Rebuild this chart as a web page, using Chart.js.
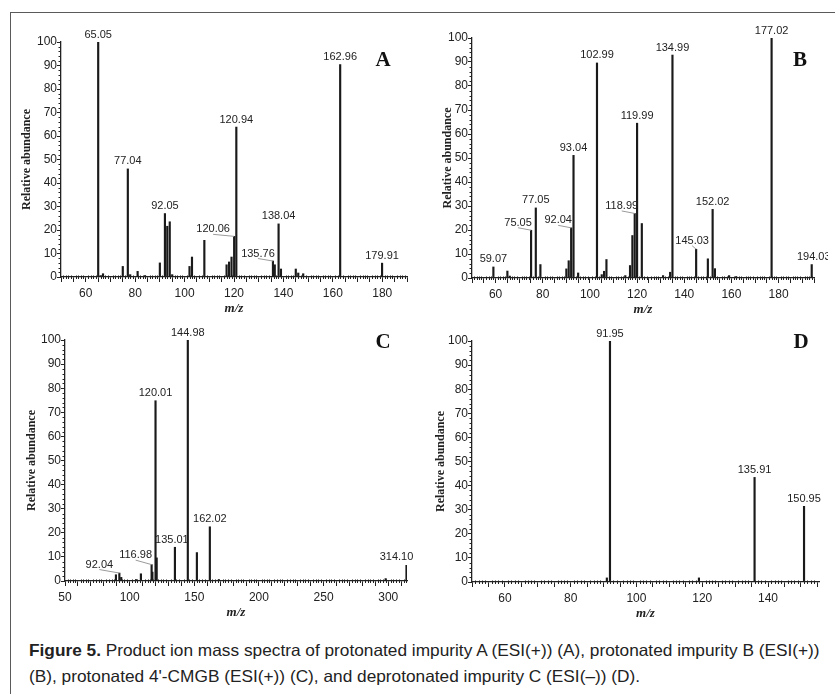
<!DOCTYPE html>
<html>
<head>
<meta charset="utf-8">
<script src="https://cdn.jsdelivr.net/npm/chart.js@4.4.1/dist/chart.umd.min.js"></script>
<style>
  body { margin: 0; background: #fff; }
  #page { position: relative; width: 835px; height: 694px; overflow: hidden; background: #fff; }
  #frame { position: absolute; left: 10px; top: 12px; width: 900px; height: 900px;
           border-left: 1.5px solid #5a5a5a; border-top: 1.5px solid #5a5a5a; }
  canvas { position: absolute; }
  .letra { position: absolute; width: 30px; text-align: center; font: bold 21px 'Liberation Serif', 'Times New Roman', serif;
           line-height: 21px; color: #111; }
  .legenda { position: absolute; left: 29px; white-space: nowrap; transform-origin: left center;
             font-family: 'Liberation Sans', Arial, sans-serif;
             font-size: 16.5px; line-height: 26px; color: #222; }
  .legenda b { font-weight: bold; }
</style>
</head>
<body>
<div id="page">
  <div id="frame"></div>
  <canvas id="chartA" width="401" height="301" style="left:16px; top:18px"></canvas>
  <canvas id="chartB" width="401" height="306" style="left:427px; top:14px"></canvas>
  <canvas id="chartC" width="399" height="307" style="left:20px; top:316px"></canvas>
  <canvas id="chartD" width="402" height="307" style="left:427px; top:317px"></canvas>
  <div class="letra" style="left:368px; top:49px">A</div>
  <div class="letra" style="left:785px; top:49px">B</div>
  <div class="letra" style="left:368px; top:331px">C</div>
  <div class="letra" style="left:786px; top:331px">D</div>
  <div class="legenda" id="linha1" style="top:637px"><b>Figure 5.</b> Product ion mass spectra of protonated impurity A (ESI(+)) (A), protonated impurity B (ESI(+))</div>
  <div class="legenda" id="linha2" style="top:663px">(B), protonated 4'-CMGB (ESI(+)) (C), and deprotonated impurity C (ESI(–)) (D).</div>
</div>
<script>
// Espectro A
const mzA = [65.05, 66, 67, 75, 77.04, 78, 81, 84, 90, 92.05, 93, 94, 95, 102, 103, 108, 117, 118, 119, 120.06, 120.94, 135.76, 136.5, 138.04, 139, 145, 146, 148, 162.96, 179.91];
const abA = [100, 0.6, 1.4, 4.5, 46, 1, 2.4, 0.6, 6, 27, 21.6, 23.5, 1, 4.5, 8.5, 15.6, 5.2, 6.4, 8.5, 17.3, 63.8, 6.8, 5.2, 22.6, 3.4, 3.4, 1.7, 1.4, 90.4, 5.9];
const rotulosA = ['65.05', '77.04', '92.05', '120.06', '120.94', '135.76', '138.04', '162.96', '179.91'];

// Espectro B
const mzB = [59.07, 65, 66, 75.05, 77.05, 79, 90, 91, 92.04, 93.04, 95, 102.99, 105, 106, 107, 115, 117, 118, 118.99, 119.99, 122, 131, 134, 134.99, 145.03, 150, 152.02, 153, 159, 162, 177.02, 194.03];
const abB = [4.6, 2.9, 0.8, 19.9, 29.2, 5.6, 3.8, 7.2, 20.9, 51.1, 2.1, 89.6, 1.4, 2.8, 7.7, 1, 5.2, 17.7, 26.9, 64.5, 22.7, 1, 2.4, 92.9, 12, 8, 28.6, 3.9, 1, 0.6, 100, 5.6];
const rotulosB = ['59.07', '75.05', '77.05', '92.04', '93.04', '102.99', '118.99', '119.99', '134.99', '145.03', '152.02', '177.02', '194.03'];

// Espectro C
const mzC = [89.4, 92.04, 93.5, 105, 108.7, 116.98, 117.6, 120.01, 120.9, 135.01, 144.98, 152, 162.02, 169, 298, 314.10];
const abC = [2.6, 3.3, 1.5, 0.6, 3, 6.8, 3.7, 74.8, 9.6, 14, 100, 11.8, 22.5, 0.6, 1, 6.5];
const rotulosC = ['92.04', '116.98', '120.01', '135.01', '144.98', '162.02', '314.10'];

// Espectro D
const mzD = [91, 91.95, 119, 135.91, 150.95];
const abD = [1.7, 100, 1.7, 43.4, 31.4];
const rotulosD = ['91.95', '135.91', '150.95'];

// deslocamento dos rótulos (px) - só os que não ficam centrados
const ajustesA = { '120.06': [-21, -7, true], '135.76': [-15, -7.5, true] };
const ajustesB = { '75.05': [-13, -7.5, true], '92.04': [-13, -7.5, true], '118.99': [-13, -7.5, true], '145.03': [-4, -8.5, true], '194.03': [2, -7.5, false] };
const ajustesC = { '92.04': [-20, -8.5, true], '116.98': [-16, -9.5, true], '135.01': [-3, -7.5, false], '314.10': [-10, -8, false] };
const ajustesD = {};

const paineis = [
    { id: 'chartA', mz: mzA, ab: abA, rotulos: rotulosA, ajustes: ajustesA, xMin: 50, xMax: 190, passo: 5, cadaRotulo: 20, menor: 1, padTitulo: 4, padDir: 10 },
    { id: 'chartB', mz: mzB, ab: abB, rotulos: rotulosB, ajustes: ajustesB, xMin: 50, xMax: 195, passo: 5, cadaRotulo: 20, menor: 1, padTitulo: 14, padDir: 14 },
    { id: 'chartC', mz: mzC, ab: abC, rotulos: rotulosC, ajustes: ajustesC, xMin: 50, xMax: 314.5, passo: 10, cadaRotulo: 50, menor: 2, padTitulo: 5, padDir: 12 },
    { id: 'chartD', mz: mzD, ab: abD, rotulos: rotulosD, ajustes: ajustesD, xMin: 50, xMax: 155.5, passo: 5, cadaRotulo: 20, menor: 1, padTitulo: 7, padDir: 10 },
];

// Plugin: marcas menores e rótulos dos picos
const pluginEspectro = {
    id: 'espectro',
    afterDraw(chart, args, opts) {
        const { ctx, chartArea, scales: { x, y } } = chart;
        ctx.save();
        ctx.strokeStyle = '#222';
        ctx.lineWidth = 1;
        ctx.beginPath();
        for (let v = 2; v < 100; v += 2) {
            if (v % 10 === 0) continue;
            const py = Math.round(y.getPixelForValue(v)) + 0.5;
            ctx.moveTo(chartArea.left - 2.5, py);
            ctx.lineTo(chartArea.left, py);
        }
        for (let v = Math.ceil(x.min); v <= x.max; v += opts.menor) {
            if (v % opts.passo === 0) continue;
            const px = Math.round(x.getPixelForValue(v)) + 0.5;
            ctx.moveTo(px, chartArea.bottom - 1.5);
            ctx.lineTo(px, chartArea.bottom + 2);
        }
        ctx.stroke();

        ctx.font = '11px "Liberation Sans", Arial, sans-serif';
        ctx.textAlign = 'center';
        ctx.textBaseline = 'middle';
        opts.rotulos.forEach(txt => {
            const i = opts.mz.indexOf(Number(txt));
            if (i < 0) return;
            const px = x.getPixelForValue(opts.mz[i]);
            const topo = y.getPixelForValue(opts.ab[i]);
            const [dx, dy, linha] = opts.ajustes[txt] || [0, -7.5, false];
            const cx = px + dx, cy = topo + dy;
            if (linha) {
                ctx.strokeStyle = '#9a9a9a';
                ctx.beginPath();
                ctx.moveTo(cx, cy + 5);
                ctx.lineTo(px, topo);
                ctx.stroke();
            }
            ctx.fillStyle = '#222';
            ctx.fillText(txt, cx, cy);
        });
        ctx.restore();
    }
};

function criarEspectro(p) {
    const ctx = document.getElementById(p.id);
    const fonteTicks = { family: '"Liberation Sans", Arial, sans-serif', size: 12 };

    new Chart(ctx, {
        type: 'bar',
        data: {
            datasets: [{
                data: p.mz.map((m, i) => ({ x: m, y: p.ab[i] })),
                backgroundColor: '#1a1a1a',
                barThickness: 1.5,
                borderWidth: 0,
            }]
        },
        options: {
            responsive: false,
            animation: false,
            events: [],
            layout: { padding: { top: 24, right: p.padDir, left: 0, bottom: 0 } },
            scales: {
                x: {
                    type: 'linear',
                    min: p.xMin,
                    max: p.xMax,
                    bounds: 'data',
                    offset: false,
                    grid: { display: true, offset: false, drawOnChartArea: false, tickLength: 5, color: '#222', lineWidth: 1 },
                    border: { display: true, color: '#222', width: 1.3 },
                    ticks: {
                        stepSize: p.passo,
                        includeBounds: false,
                        autoSkip: false,
                        maxRotation: 0,
                        padding: 4,
                        color: '#222',
                        font: fonteTicks,
                        callback: v => (v % p.cadaRotulo === 0 ? v : ''),
                    },
                    title: {
                        display: true,
                        text: 'm/z',
                        color: '#222',
                        padding: { top: 0, bottom: 3 },
                        font: { family: '"Liberation Serif", "Times New Roman", serif', size: 13, weight: 'bold', style: 'italic' },
                    },
                    afterFit: s => { s.height = 42; },
                },
                y: {
                    min: 0,
                    max: 100,
                    grid: { display: true, drawOnChartArea: false, tickLength: 4, color: '#222', lineWidth: 1 },
                    border: { display: true, color: '#222', width: 1.3 },
                    ticks: { stepSize: 10, padding: 0, color: '#222', font: fonteTicks },
                    title: {
                        display: true,
                        text: 'Relative abundance',
                        color: '#222',
                        padding: { top: p.padTitulo, bottom: 0 },
                        font: { family: '"Liberation Serif", "Times New Roman", serif', size: 12, weight: 'bold' },
                    },
                    afterFit: s => { s.width = 45; },
                }
            },
            plugins: {
                legend: { display: false },
                tooltip: { enabled: false },
                espectro: { mz: p.mz, ab: p.ab, rotulos: p.rotulos, ajustes: p.ajustes, menor: p.menor, passo: p.passo },
            }
        },
        plugins: [pluginEspectro]
    });
}

paineis.forEach(criarEspectro);

// ajustar a largura da legenda à figura original
const l1 = document.getElementById('linha1');
const l2 = document.getElementById('linha2');
const escala = 791 / l1.offsetWidth;
l1.style.transform = `scaleX(${escala})`;
l2.style.transform = `scaleX(${escala})`;
</script>
</body>
</html>
